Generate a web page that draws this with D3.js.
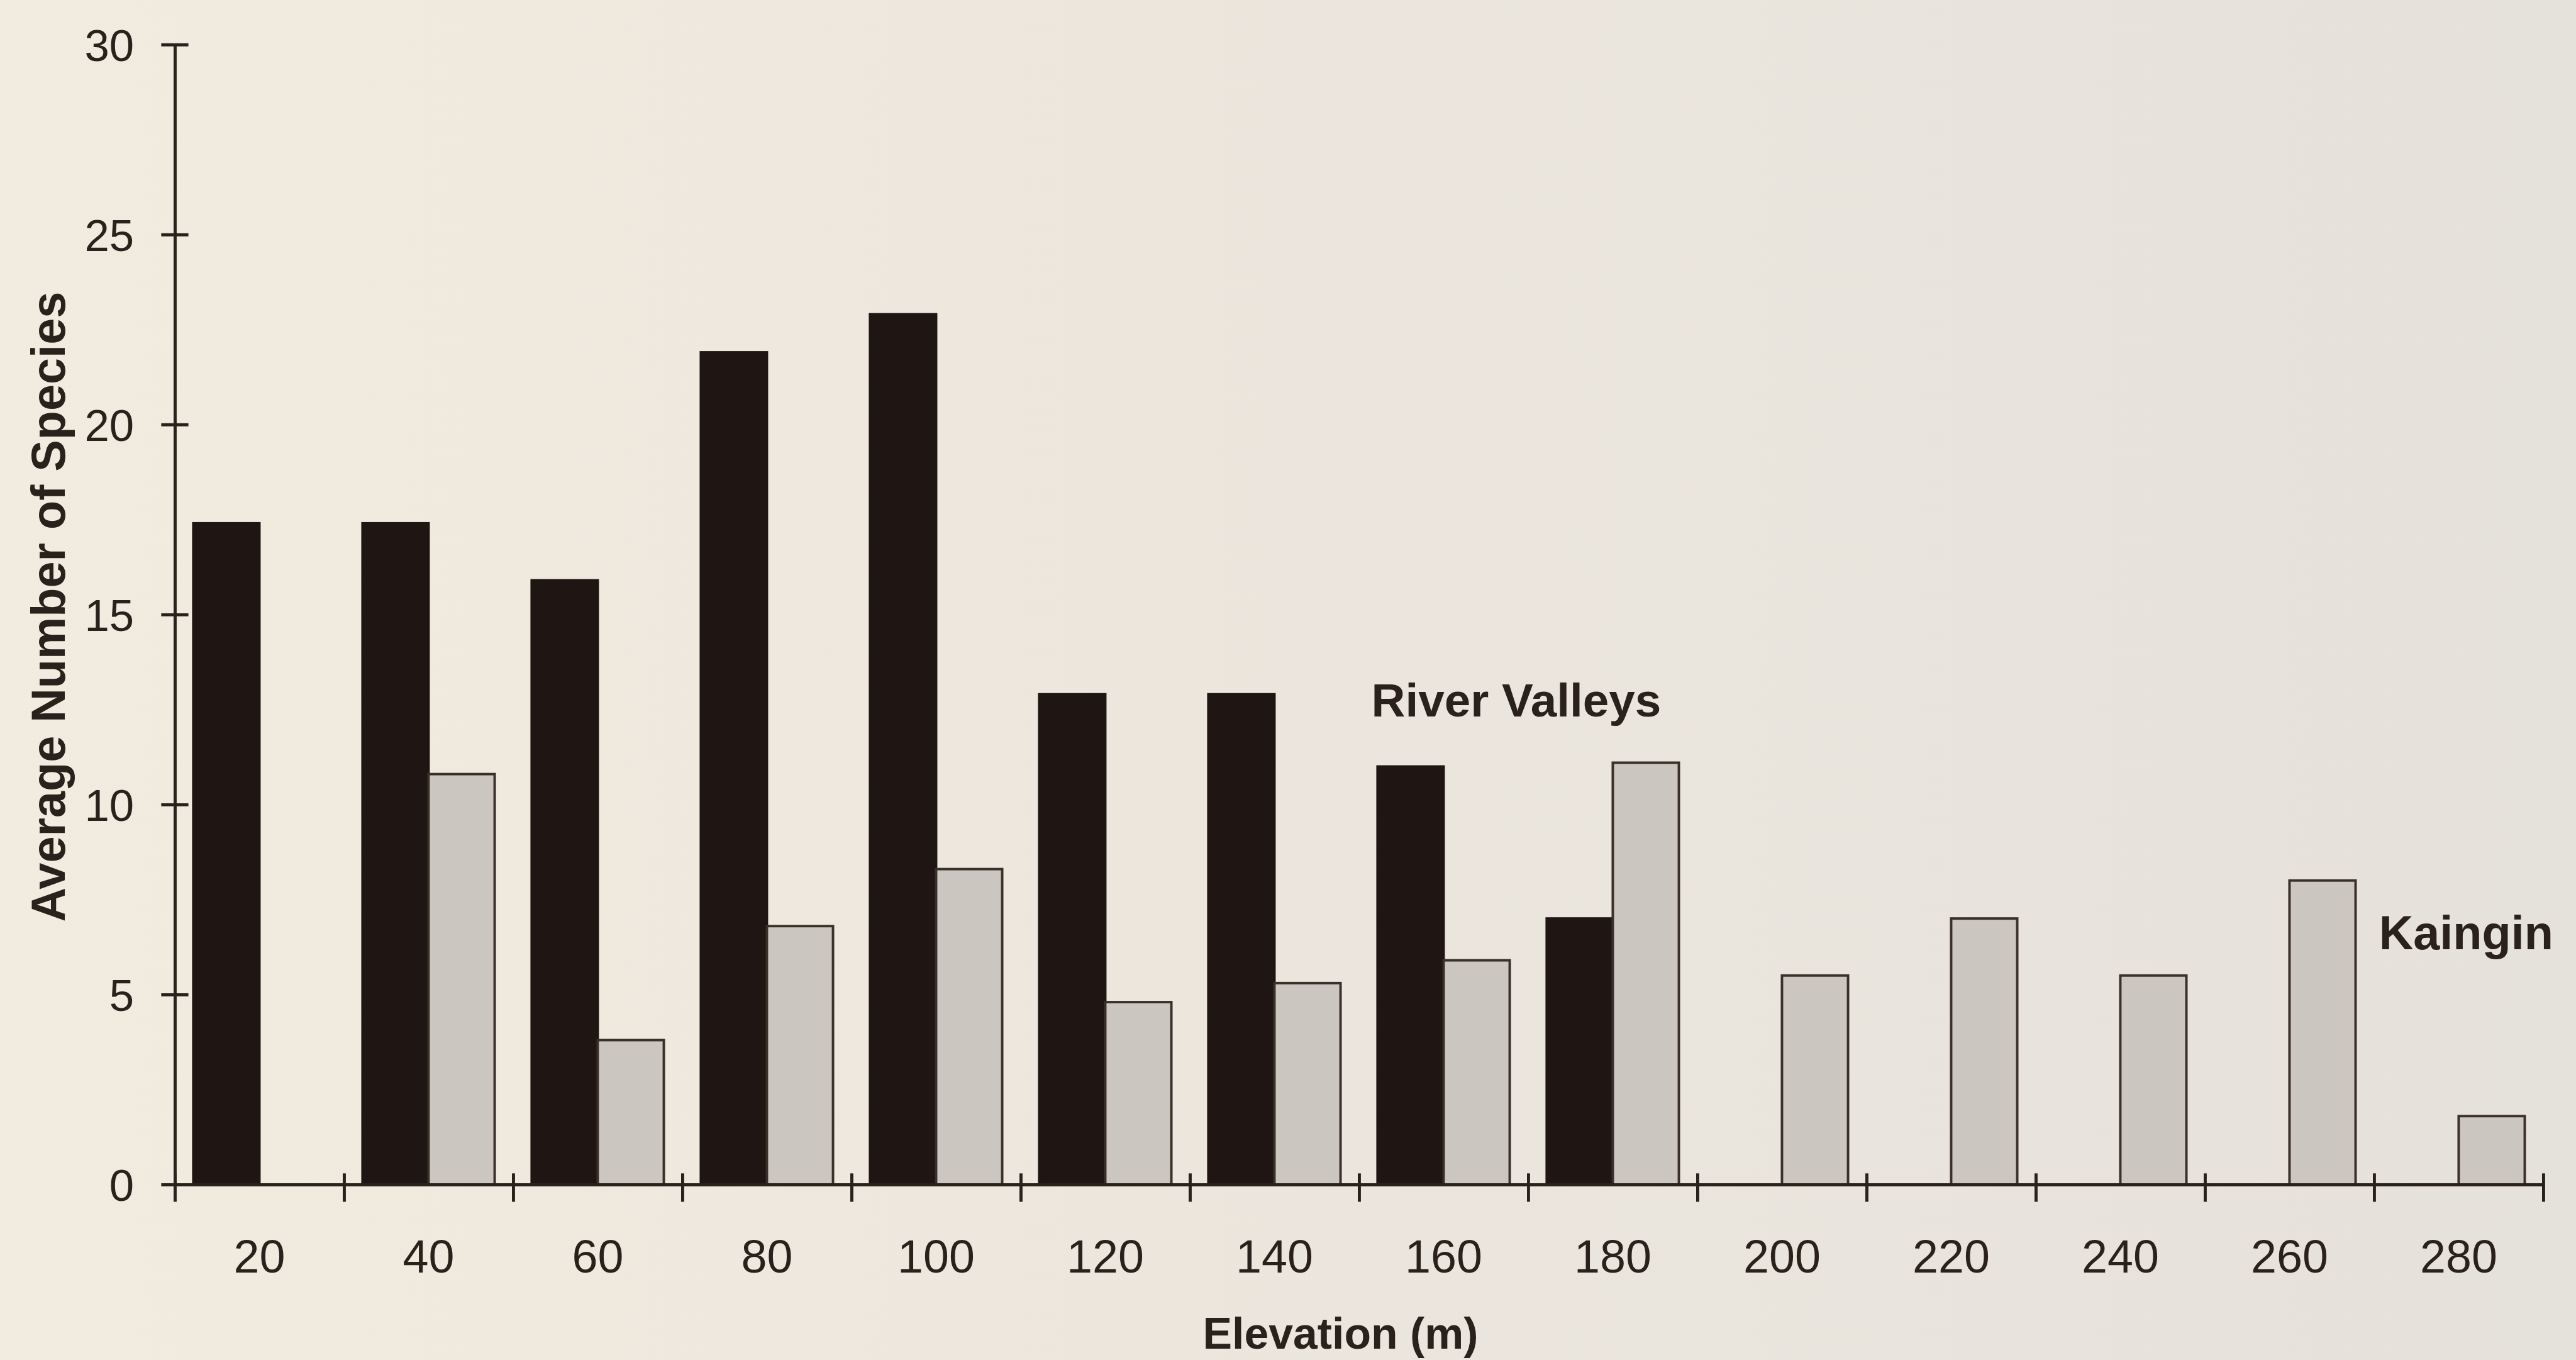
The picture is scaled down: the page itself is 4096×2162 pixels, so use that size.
<!DOCTYPE html>
<html lang="en">
<head>
    <meta charset="UTF-8">
    <title>Average Number of Species by Elevation</title>
    <script src="https://d3js.org/d3.v7.min.js"></script>
    <style>
        body {
            margin: 0;
            padding: 0;
            background-color: #ece6dc;
            overflow: hidden;
        }

        #chart svg {
            display: block;
        }

        .tick text {
            font-family: 'Liberation Sans', Arial, sans-serif;
            fill: #2b211c;
        }

        .title {
            font-family: 'Liberation Sans', Arial, sans-serif;
            font-weight: bold;
            fill: #2b211c;
        }
    </style>
</head>
<body>
    <div id="chart"></div>

    <script>
        // data
        const elevations = [20, 40, 60, 80, 100, 120, 140, 160, 180, 200, 220, 240, 260, 280];
        const riverValleys = [17.4, 17.4, 15.9, 21.9, 22.9, 12.9, 12.9, 11.0, 7.0, null, null, null, null, null];
        const kaingin = [null, 10.8, 3.8, 6.8, 8.3, 4.8, 5.3, 5.9, 11.1, 5.5, 7.0, 5.5, 8.0, 1.8];
        const seriesNames = ["River Valleys", "Kaingin"];
        const yTicks = [0, 5, 10, 15, 20, 25, 30];

        // reference is 4170 x 2201, drawn into the 4096 x 2162 window
        const width = 4170;
        const height = 2201;
        const margin = {top: 72, right: 53, bottom: 284, left: 283};
        const ink = "#2b211c";

        const svg = d3.select("#chart")
            .append("svg")
            .attr("width", 4096)
            .attr("height", 2162)
            .attr("viewBox", `0 0 ${width} ${height}`);

        // paper background, a little warmer on the left like the photo
        const grad = svg.append("defs").append("linearGradient")
            .attr("id", "paper")
            .attr("x1", "0%").attr("x2", "100%");
        grad.append("stop").attr("offset", "0%").attr("stop-color", "#f2ebdf");
        grad.append("stop").attr("offset", "100%").attr("stop-color", "#e5e1db");

        svg.append("rect")
            .attr("width", width)
            .attr("height", height)
            .attr("fill", "url(#paper)");

        const x = d3.scaleBand()
            .domain(elevations)
            .range([margin.left, width - margin.right])
            .paddingInner(0)
            .paddingOuter(0);

        const xSub = d3.scaleBand()
            .domain(seriesNames)
            .range([0, x.bandwidth()])
            .paddingInner(0)
            .paddingOuter(0.28);

        const xEdges = d3.scaleLinear()
            .domain([0, elevations.length])
            .range([margin.left, width - margin.right]);

        const y = d3.scaleLinear()
            .domain([0, 30])
            .range([height - margin.bottom, margin.top]);

        const rows = elevations.map((e, i) => ({
            elevation: e,
            values: [
                {series: "River Valleys", value: riverValleys[i]},
                {series: "Kaingin", value: kaingin[i]}
            ].filter(d => d.value !== null)
        }));

        // bars
        const groups = svg.append("g")
            .selectAll("g")
            .data(rows)
            .enter()
            .append("g")
            .attr("transform", d => `translate(${x(d.elevation)},0)`);

        groups.selectAll("rect")
            .data(d => d.values)
            .enter()
            .append("rect")
            .attr("x", d => xSub(d.series))
            .attr("y", d => y(d.value))
            .attr("width", xSub.bandwidth())
            .attr("height", d => y(0) - y(d.value))
            .attr("fill", d => d.series === "River Valleys" ? "#1f1512" : "#cbc6bf")
            .attr("stroke", d => d.series === "River Valleys" ? "#1f1512" : "#3a2f29")
            .attr("stroke-width", 4);

        // y axis with ticks crossing the line
        const yAxis = svg.append("g")
            .attr("transform", `translate(${margin.left},0)`)
            .call(d3.axisLeft(y).tickValues(yTicks).tickSize(22).tickSizeOuter(0).tickPadding(44));

        yAxis.selectAll(".tick line").attr("x2", -22).attr("x1", 22);
        yAxis.selectAll(".tick text").attr("font-size", 72).attr("dy", "0.36em");

        // x axis: boundary ticks
        const xAxis = svg.append("g")
            .attr("transform", `translate(0,${y(0)})`)
            .call(d3.axisBottom(xEdges).tickValues(d3.range(0, elevations.length + 1)).tickFormat("").tickSize(28).tickSizeOuter(0));

        xAxis.selectAll(".tick line").attr("y1", -18);

        // x axis: labels centred in each band
        const xLabels = svg.append("g")
            .attr("transform", `translate(0,${y(0)})`)
            .call(d3.axisBottom(x).tickSize(0).tickPadding(90));

        xLabels.select(".domain").remove();
        xLabels.selectAll(".tick text").attr("font-size", 75).attr("dy", "0.71em").attr("y", 89);

        svg.selectAll(".domain, .tick line")
            .attr("stroke", ink)
            .attr("stroke-width", 5);

        // axis titles
        svg.append("text")
            .attr("class", "title")
            .attr("transform", "translate(105,982) rotate(-90)")
            .attr("text-anchor", "middle")
            .attr("font-size", 77)
            .text("Average Number of Species");

        svg.append("text")
            .attr("class", "title")
            .attr("x", 2170)
            .attr("y", 2183)
            .attr("text-anchor", "middle")
            .attr("font-size", 71)
            .text("Elevation (m)");

        // series labels written on the plot
        svg.append("text")
            .attr("class", "title")
            .attr("x", 2220)
            .attr("y", 1160)
            .attr("font-size", 76)
            .text("River Valleys");

        svg.append("text")
            .attr("class", "title")
            .attr("x", 3851)
            .attr("y", 1536)
            .attr("font-size", 77)
            .text("Kaingin");
    </script>
</body>
</html>
